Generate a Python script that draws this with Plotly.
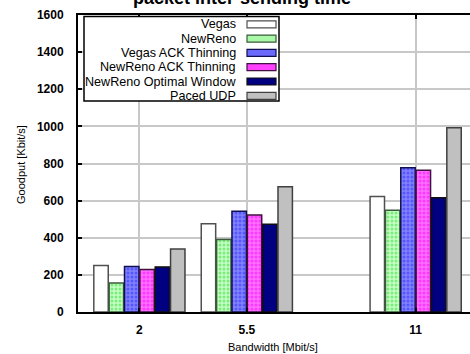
import plotly.graph_objects as go

# Goodput per bandwidth setting, one series per transport variant
bandwidth = [2, 5.5, 11]
bandwidth_labels = ["2", "5.5", "11"]

series_names = [
    "Vegas",
    "NewReno",
    "Vegas ACK Thinning",
    "NewReno ACK Thinning",
    "NewReno Optimal Window",
    "Paced UDP",
]
vegas = [250, 475, 622]
newreno = [156, 390, 548]
vegas_ack = [245, 543, 777]
newreno_ack = [229, 523, 763]
newreno_opt = [243, 473, 616]
paced_udp = [339, 675, 992]

y_ticks = [0, 200, 400, 600, 800, 1000, 1200, 1400, 1600]

values = [vegas, newreno, vegas_ack, newreno_ack, newreno_opt, paced_udp]

styles = [
    dict(color="#ffffff", line="#505050", pattern=None, swatch="#ffffff"),
    dict(color="#c6ffc6", line="#3a5a3a",
         pattern=dict(shape=".", fgcolor="#30d830", size=4, solidity=0.45, fillmode="overlay"),
         swatch="#a8f8a8"),
    dict(color="#8282ff", line="#101050",
         pattern=dict(shape=".", fgcolor="#2a2aff", size=4, solidity=0.45, fillmode="overlay"),
         swatch="#6a6aff"),
    dict(color="#ff70ff", line="#401040",
         pattern=dict(shape=".", fgcolor="#ff00ff", size=4, solidity=0.45, fillmode="overlay"),
         swatch="#ff40ff"),
    dict(color="#000080", line="#101010", pattern=None, swatch="#000080"),
    dict(color="#c0c0c0", line="#404040", pattern=None, swatch="#c0c0c0"),
]

fig = go.Figure()
for name, vals, st in zip(series_names, values, styles):
    marker = dict(color=st["color"], line=dict(color=st["line"], width=1.5))
    if st["pattern"]:
        marker["pattern"] = st["pattern"]
    fig.add_trace(go.Bar(x=bandwidth, y=vals, name=name, marker=marker, showlegend=False))

# plot-area geometry in pixels
W, H = 470, 354
ML, MT, MB, MR = 78, 15, 42, 0
PW, PH = W - ML - MR, H - MT - MB
X_MAX = 12.77


def px(xp):
    return (xp - ML) / PW


def py(yp):
    return (H - MB - yp) / PH


shapes = []
annotations = []

# legend box with right-aligned labels and swatches on the right
shapes.append(dict(type="rect", xref="paper", yref="paper",
                   x0=px(84), x1=px(279), y0=py(101), y1=py(16.5),
                   fillcolor="white", line=dict(color="black", width=1.5), layer="above"))
row_y = [24.3, 38.6, 52.9, 67.2, 81.5, 95.8]
for name, st, yc in zip(series_names, styles, row_y):
    annotations.append(dict(text=name, xref="paper", yref="paper", x=px(238), y=py(yc),
                            xanchor="right", yanchor="middle", showarrow=False,
                            font=dict(family="Liberation Sans, Arial", size=12.6, color="black")))
    shapes.append(dict(type="rect", xref="paper", yref="paper",
                       x0=px(247), x1=px(276), y0=py(yc + 3.5), y1=py(yc - 3.5),
                       fillcolor=st["swatch"], line=dict(color=st["line"], width=1.2),
                       layer="above"))

# title, partly above the page edge
annotations.append(dict(text="<b>packet inter-sending time</b>", xref="paper", yref="paper",
                        x=px(242), y=py(10), xanchor="center", yanchor="bottom", showarrow=False,
                        font=dict(family="Liberation Sans, Arial", size=18, color="black")))
# axis titles
annotations.append(dict(text="Bandwidth [Mbit/s]", xref="paper", yref="paper",
                        x=px(273), y=py(346.5), xanchor="center", yanchor="middle", showarrow=False,
                        font=dict(family="Liberation Sans, Arial", size=11, color="black")))
annotations.append(dict(text="Goodput [Kbit/s]", xref="paper", yref="paper",
                        x=px(21), y=py(165), xanchor="center", yanchor="middle", showarrow=False,
                        textangle=-90,
                        font=dict(family="Liberation Sans, Arial", size=11, color="black")))

tick_font = dict(family="Liberation Sans, Arial", size=12, color="black", weight="bold")

fig.update_layout(
    width=W, height=H,
    margin=dict(l=ML, r=MR, t=MT, b=MB, autoexpand=False),
    paper_bgcolor="white", plot_bgcolor="white",
    barmode="group", bargap=1 / 7, bargroupgap=0.06,
    shapes=shapes, annotations=annotations,
    xaxis=dict(range=[0, X_MAX], tickvals=bandwidth, ticktext=bandwidth_labels,
               showgrid=True, gridcolor="#c8c8c8", gridwidth=1.5,
               showline=True, linecolor="black", linewidth=2, mirror="ticks",
               ticks="inside", ticklen=4, tickcolor="black", tickwidth=1.5,
               tickfont=tick_font, ticklabelstandoff=6, zeroline=False),
    yaxis=dict(range=[0, 1600], tickvals=y_ticks,
               showgrid=True, gridcolor="#c8c8c8", gridwidth=1.5,
               showline=True, linecolor="black", linewidth=2,
               ticks="inside", ticklen=4, tickcolor="black", tickwidth=1.5,
               tickfont=tick_font, ticklabelstandoff=10, zeroline=False),
)

fig.write_html("out.html")
